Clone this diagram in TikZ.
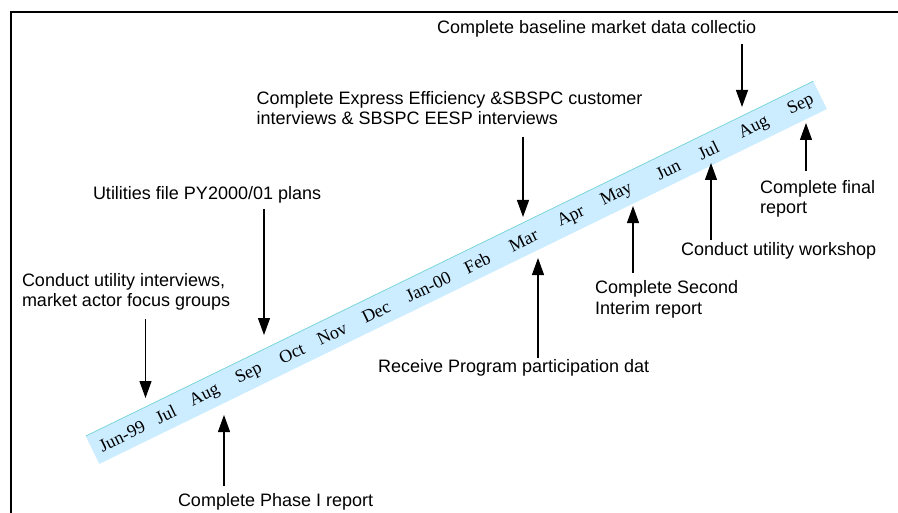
\documentclass[tikz,border=0pt]{standalone}
\usepackage{fontspec}
\setmainfont{Liberation Sans}
\newfontfamily\monthfont{Liberation Serif}
\usetikzlibrary{arrows.meta}
\definecolor{bandblue}{RGB}{204,236,255}
\definecolor{bandedge}{RGB}{110,210,210}

\begin{document}
\begin{tikzpicture}[x=0.75pt,y=-0.75pt,inner sep=0pt,outer sep=0pt,
note/.style={anchor=north west,align=left,font=\fontsize{13.5pt}{15.5pt}\selectfont},
month/.style={transform shape,font=\monthfont\fontsize{13.5pt}{15.5pt}\selectfont},
arr/.style={line width=0.9pt,-{Triangle[length=12.75pt,width=9pt]}}]

\useasboundingbox (0,0) rectangle (898,513);
\draw[line width=1.5pt] (11,513) -- (11,12) -- (898,12);

% time band
\begin{scope}[shift={(92.5,450)},rotate=26]
\fill[bandblue] (0,-15.5) rectangle (809.5,15.5);
\draw[bandedge,line width=0.5pt] (0,-15.5) -- (809.5,-15.5);
\foreach \t/\m [count=\i] in {32.7/Jun-99,81.3/Jul,124.7/Aug,173.8/Sep,221.5/Oct,266.2/Nov,315.3/Dec,373.4/Jan-00,
  427.8/Feb,479.3/Mar,532.3/Apr,582.9/May,640.3/Jun,685/Jul,735.8/Aug,787.9/Sep}
  \node[month] (m\i) at (\t,0.5) {\m};
\end{scope}

% milestones
\node[note] (lbl1) at (22,273) {Conduct utility interviews,\\market actor focus groups};
\node[note] (lbl2) at (93,186.5) {Utilities file PY2000/01 plans};
\node[note] (lbl3) at (256.7,91) {Complete Express Efficiency \&SBSPC customer\\interviews \& SBSPC EESP interviews};
\node[note] (lbl4) at (437,20) {Complete baseline market data collectio};
\node[note] (lbl5) at (760,180) {Complete final\\report};
\node[note] (lbl6) at (681,242) {Conduct utility workshop};
\node[note] (lbl7) at (595,280.7) {Complete Second\\Interim report};
\node[note] (lbl8) at (378,359) {Receive Program participation dat};
\node[note] (lbl9) at (178,493.7) {Complete Phase I report};

\coordinate (tip1) at (145.5,398);
\coordinate (tip2) at (264,335);
\coordinate (tip3) at (523,217);
\coordinate (tip4) at (742,107);
\coordinate (tip5) at (806,123);
\coordinate (tip6) at (711,163);
\coordinate (tip7) at (633,206);
\coordinate (tip8) at (538,258);
\coordinate (tip9) at (224,415);

\draw[arr] (lbl1.south -| tip1) ++(0,9) -- (tip1);
\draw[arr] (lbl2.south -| tip2) ++(0,6) -- (tip2);
\draw[arr] (lbl3.south -| tip3) ++(0,12) -- (tip3);
\draw[arr] (lbl4.south -| tip4) ++(0,7) -- (tip4);
\draw[arr] (lbl5.north -| tip5) ++(0,-9) -- (tip5);
\draw[arr] (lbl6.north -| tip6) ++(0,-2) -- (tip6);
\draw[arr] (lbl7.north -| tip7) ++(0,-8) -- (tip7);
\draw[arr] (lbl8.north -| tip8) ++(0,-1) -- (tip8);
\draw[arr] (lbl9.north -| tip9) ++(0,-8) -- (tip9);
\end{tikzpicture}
\end{document}
